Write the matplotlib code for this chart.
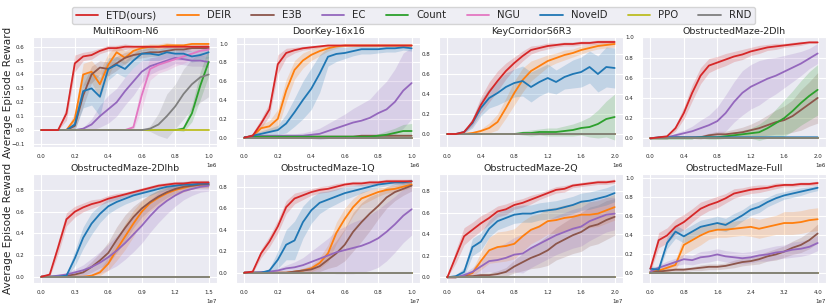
import matplotlib
matplotlib.use('Agg')
import matplotlib.pyplot as plt
import numpy as np
import seaborn as sns

sns.set_style('darkgrid')

methods = ['ETD(ours)', 'DEIR', 'E3B', 'EC', 'Count', 'NGU', 'NovelD', 'PPO', 'RND']
colors = ['#d62728', '#ff7f0e', '#8c564b', '#9467bd', '#2ca02c',
          '#e377c2', '#1f77b4', '#bcbd22', '#7f7f7f']

titles = ['MultiRoom-N6', 'DoorKey-16x16', 'KeyCorridorS6R3', 'ObstructedMaze-2Dlh',
          'ObstructedMaze-2Dlhb', 'ObstructedMaze-1Q', 'ObstructedMaze-2Q', 'ObstructedMaze-Full']
total_steps = [1e6, 1e6, 2e6, 2e6, 1.5e7, 1e7, 2e7, 4e7]
y_ticks = [[-0.1, 0.0, 0.1, 0.2, 0.3, 0.4, 0.5, 0.6],
           [0.0, 0.2, 0.4, 0.6, 0.8, 1.0],
           [0.0, 0.2, 0.4, 0.6, 0.8],
           [0.0, 0.2, 0.4, 0.6, 0.8, 1.0],
           [0.0, 0.2, 0.4, 0.6, 0.8],
           [0.0, 0.2, 0.4, 0.6, 0.8],
           [0.0, 0.2, 0.4, 0.6, 0.8],
           [0.0, 0.2, 0.4, 0.6, 0.8, 1.0]]
y_lims = [(-0.122, 0.67), (-0.10, 1.07), (-0.13, 0.97), (-0.086, 1.003),
          (-0.058, 0.948), (-0.096, 0.918), (-0.053, 0.957), (-0.10, 1.045)]

progress = [0.0, 0.05, 0.1, 0.15, 0.2, 0.25, 0.3, 0.35, 0.4, 0.45, 0.5,
            0.55, 0.6, 0.65, 0.7, 0.75, 0.8, 0.85, 0.9, 0.95, 1.0]
flat_zero = [0, 0, 0, 0, 0, 0, 0, 0, 0, 0, 0, 0, 0, 0, 0, 0, 0, 0, 0, 0, 0]

# ---- MultiRoom-N6
multiroom_mean = {
    'ETD(ours)': [0, 0, 0, 0.12, 0.48, 0.53, 0.54, 0.57, 0.59, 0.59, 0.60, 0.60, 0.60, 0.60, 0.60, 0.60, 0.60, 0.60, 0.60, 0.60, 0.60],
    'DEIR':      [0, 0, 0, 0, 0.08, 0.40, 0.42, 0.33, 0.47, 0.56, 0.52, 0.57, 0.59, 0.60, 0.60, 0.61, 0.61, 0.61, 0.62, 0.62, 0.62],
    'E3B':       [0, 0, 0, 0, 0.03, 0.25, 0.40, 0.45, 0.44, 0.48, 0.52, 0.54, 0.55, 0.56, 0.56, 0.57, 0.58, 0.58, 0.59, 0.59, 0.59],
    'EC':        [0, 0, 0, 0, 0, 0.01, 0.04, 0.10, 0.15, 0.20, 0.28, 0.35, 0.42, 0.46, 0.48, 0.50, 0.52, 0.51, 0.50, 0.50, 0.49],
    'Count':     [0, 0, 0, 0, 0, 0, 0, 0, 0, 0, 0, 0, 0, 0, 0, 0, 0, 0.01, 0.12, 0.32, 0.49],
    'NGU':       [0, 0, 0, 0, 0, 0, 0, 0, 0, 0, 0, 0.02, 0.25, 0.44, 0.47, 0.49, 0.51, 0.53, 0.55, 0.57, 0.58],
    'NovelD':    [0, 0, 0, 0, 0.04, 0.28, 0.30, 0.24, 0.44, 0.47, 0.44, 0.50, 0.55, 0.55, 0.54, 0.56, 0.55, 0.55, 0.53, 0.54, 0.56],
    'RND':       [0, 0, 0, 0, 0, 0, 0, 0, 0, 0, 0, 0, 0, 0.01, 0.04, 0.10, 0.17, 0.26, 0.33, 0.38, 0.40],
}
multiroom_sd = {
    'ETD(ours)': [0, 0, 0, 0.05, 0.06, 0.03, 0.03, 0.02, 0.02, 0.02, 0.02, 0.01, 0.01, 0.01, 0.01, 0.01, 0.01, 0.01, 0.01, 0.01, 0.01],
    'DEIR':      [0, 0, 0, 0, 0.05, 0.08, 0.08, 0.10, 0.08, 0.05, 0.05, 0.03, 0.02, 0.02, 0.02, 0.02, 0.01, 0.01, 0.01, 0.01, 0.01],
    'E3B':       [0, 0, 0, 0, 0.03, 0.08, 0.06, 0.05, 0.05, 0.05, 0.04, 0.03, 0.03, 0.03, 0.03, 0.02, 0.02, 0.02, 0.02, 0.02, 0.02],
    'EC':        [0, 0, 0, 0, 0, 0.01, 0.04, 0.08, 0.10, 0.10, 0.10, 0.10, 0.08, 0.06, 0.05, 0.05, 0.04, 0.04, 0.04, 0.04, 0.04],
    'Count':     [0, 0, 0, 0, 0, 0, 0, 0, 0, 0, 0, 0, 0, 0, 0, 0, 0, 0.02, 0.06, 0.10, 0.10],
    'NGU':       [0, 0, 0, 0, 0, 0, 0, 0, 0, 0, 0, 0.02, 0.10, 0.08, 0.06, 0.06, 0.05, 0.05, 0.04, 0.04, 0.04],
    'NovelD':    [0, 0, 0, 0, 0.04, 0.12, 0.12, 0.14, 0.08, 0.06, 0.06, 0.05, 0.05, 0.05, 0.04, 0.04, 0.04, 0.04, 0.04, 0.04, 0.04],
    'RND':       [0, 0, 0, 0, 0, 0, 0, 0, 0, 0, 0, 0, 0, 0.02, 0.08, 0.16, 0.16, 0.18, 0.18, 0.18, 0.16],
}

# ---- DoorKey-16x16
doorkey_mean = {
    'ETD(ours)': [0, 0.02, 0.15, 0.30, 0.78, 0.90, 0.93, 0.95, 0.96, 0.97, 0.98, 0.98, 0.98, 0.98, 0.98, 0.98, 0.98, 0.98, 0.98, 0.98, 0.98],
    'DEIR':      [0, 0.02, 0.10, 0.12, 0.20, 0.50, 0.72, 0.82, 0.88, 0.92, 0.95, 0.97, 0.98, 0.98, 0.98, 0.98, 0.98, 0.98, 0.98, 0.98, 0.98],
    'E3B':       [0, 0.01, 0.01, 0.01, 0.01, 0.01, 0.01, 0.01, 0.01, 0.01, 0.01, 0.01, 0.01, 0.01, 0.02, 0.02, 0.02, 0.02, 0.02, 0.02, 0.02],
    'EC':        [0, 0.01, 0.02, 0.02, 0.02, 0.02, 0.02, 0.02, 0.03, 0.04, 0.07, 0.10, 0.13, 0.16, 0.18, 0.21, 0.26, 0.30, 0.38, 0.50, 0.58],
    'Count':     [0, 0.01, 0.01, 0.01, 0.01, 0.01, 0.01, 0.01, 0.01, 0.01, 0.01, 0.01, 0.01, 0.01, 0.01, 0.01, 0.02, 0.03, 0.05, 0.07, 0.07],
    'NovelD':    [0, 0.02, 0.04, 0.06, 0.08, 0.15, 0.27, 0.40, 0.52, 0.68, 0.86, 0.89, 0.90, 0.92, 0.94, 0.94, 0.94, 0.95, 0.95, 0.96, 0.95],
}
doorkey_sd = {
    'ETD(ours)': [0, 0.03, 0.05, 0.07, 0.10, 0.05, 0.03, 0.02, 0.02, 0.01, 0.01, 0.01, 0.01, 0.01, 0.01, 0.01, 0.01, 0.01, 0.01, 0.01, 0.01],
    'DEIR':      [0, 0.02, 0.04, 0.06, 0.10, 0.12, 0.10, 0.08, 0.06, 0.05, 0.03, 0.02, 0.01, 0.01, 0.01, 0.01, 0.01, 0.01, 0.01, 0.01, 0.01],
    'E3B':       [0, 0.01, 0.01, 0.01, 0.01, 0.01, 0.01, 0.01, 0.01, 0.01, 0.01, 0.01, 0.01, 0.01, 0.01, 0.01, 0.01, 0.01, 0.01, 0.01, 0.01],
    'EC':        [0, 0.01, 0.01, 0.01, 0.01, 0.02, 0.02, 0.03, 0.04, 0.06, 0.08, 0.10, 0.12, 0.15, 0.18, 0.20, 0.25, 0.30, 0.35, 0.40, 0.38],
    'Count':     [0, 0, 0, 0, 0, 0, 0, 0, 0, 0, 0, 0, 0, 0, 0, 0, 0.02, 0.04, 0.05, 0.07, 0.08],
    'NovelD':    [0, 0.02, 0.03, 0.04, 0.05, 0.10, 0.15, 0.20, 0.22, 0.20, 0.10, 0.08, 0.06, 0.05, 0.05, 0.05, 0.04, 0.04, 0.04, 0.03, 0.03],
}

# ---- KeyCorridorS6R3
keycorridor_mean = {
    'ETD(ours)': [0, 0, 0.02, 0.12, 0.29, 0.42, 0.53, 0.63, 0.71, 0.78, 0.84, 0.86, 0.88, 0.89, 0.90, 0.90, 0.91, 0.91, 0.92, 0.92, 0.92],
    'DEIR':      [0, 0, 0, 0.01, 0.03, 0.06, 0.12, 0.26, 0.41, 0.54, 0.63, 0.68, 0.73, 0.76, 0.79, 0.81, 0.84, 0.86, 0.88, 0.89, 0.90],
    'Count':     [0, 0, 0, 0, 0, 0, 0, 0, 0, 0.01, 0.01, 0.02, 0.02, 0.02, 0.03, 0.04, 0.06, 0.07, 0.10, 0.15, 0.17],
    'NovelD':    [0, 0, 0.02, 0.11, 0.26, 0.36, 0.41, 0.47, 0.51, 0.53, 0.47, 0.52, 0.56, 0.52, 0.57, 0.60, 0.62, 0.67, 0.60, 0.67, 0.66],
}
keycorridor_sd = {
    'ETD(ours)': [0, 0, 0.01, 0.04, 0.08, 0.10, 0.10, 0.08, 0.06, 0.05, 0.04, 0.03, 0.03, 0.02, 0.02, 0.02, 0.02, 0.02, 0.02, 0.02, 0.02],
    'DEIR':      [0, 0, 0, 0.01, 0.02, 0.05, 0.08, 0.10, 0.12, 0.12, 0.10, 0.08, 0.06, 0.05, 0.05, 0.04, 0.04, 0.03, 0.03, 0.03, 0.03],
    'Count':     [0, 0, 0, 0, 0, 0, 0, 0, 0, 0.02, 0.03, 0.03, 0.04, 0.04, 0.05, 0.06, 0.07, 0.10, 0.14, 0.18, 0.23],
    'NovelD':    [0, 0, 0.01, 0.05, 0.08, 0.10, 0.12, 0.14, 0.14, 0.15, 0.15, 0.14, 0.14, 0.12, 0.12, 0.14, 0.15, 0.16, 0.18, 0.20, 0.20],
}

# ---- ObstructedMaze-2Dlh
maze_2dlh_mean = {
    'ETD(ours)': [0, 0.01, 0.02, 0.10, 0.25, 0.45, 0.62, 0.72, 0.75, 0.78, 0.81, 0.83, 0.86, 0.88, 0.90, 0.91, 0.92, 0.93, 0.94, 0.95, 0.95],
    'E3B':       [0, 0, 0, 0.01, 0.01, 0.01, 0.01, 0.03, 0.04, 0.04, 0.05, 0.06, 0.08, 0.10, 0.13, 0.16, 0.18, 0.22, 0.28, 0.34, 0.40],
    'EC':        [0, 0.005, 0.01, 0.03, 0.05, 0.07, 0.10, 0.13, 0.17, 0.25, 0.36, 0.45, 0.51, 0.55, 0.59, 0.62, 0.66, 0.70, 0.74, 0.79, 0.84],
    'Count':     [0, 0, 0, 0, 0, 0, 0.01, 0.01, 0.01, 0.02, 0.03, 0.04, 0.05, 0.06, 0.10, 0.15, 0.20, 0.27, 0.35, 0.42, 0.48],
    'NovelD':    [0, 0.01, 0.01, 0.01, 0.01, 0.01, 0.01, 0.01, 0.01, 0.01, 0.01, 0.01, 0.01, 0.01, 0.01, 0.01, 0.01, 0.01, 0.01, 0.01, 0.01],
}
maze_2dlh_sd = {
    'ETD(ours)': [0, 0.01, 0.01, 0.03, 0.06, 0.08, 0.08, 0.07, 0.06, 0.06, 0.05, 0.05, 0.04, 0.04, 0.03, 0.03, 0.02, 0.02, 0.02, 0.01, 0.01],
    'E3B':       [0, 0, 0, 0.01, 0.01, 0.01, 0.02, 0.02, 0.03, 0.03, 0.04, 0.05, 0.06, 0.08, 0.10, 0.12, 0.14, 0.16, 0.20, 0.22, 0.25],
    'EC':        [0, 0.01, 0.01, 0.02, 0.03, 0.05, 0.08, 0.10, 0.14, 0.18, 0.20, 0.22, 0.22, 0.22, 0.20, 0.18, 0.16, 0.14, 0.12, 0.10, 0.10],
    'Count':     [0, 0, 0, 0, 0, 0, 0.01, 0.02, 0.02, 0.02, 0.03, 0.04, 0.05, 0.08, 0.10, 0.14, 0.18, 0.20, 0.22, 0.24, 0.25],
    'NovelD':    [0, 0.01, 0.01, 0.01, 0.01, 0.01, 0.01, 0.01, 0.01, 0.01, 0.01, 0.01, 0.01, 0.01, 0.01, 0.01, 0.01, 0.01, 0.01, 0.01, 0.01],
}

# ---- ObstructedMaze-2Dlhb
maze_2dlhb_mean = {
    'ETD(ours)': [0, 0.02, 0.27, 0.53, 0.60, 0.64, 0.67, 0.69, 0.72, 0.74, 0.76, 0.78, 0.80, 0.82, 0.84, 0.85, 0.86, 0.86, 0.87, 0.87, 0.87],
    'DEIR':      [0, 0, 0, 0, 0, 0, 0.01, 0.04, 0.12, 0.25, 0.37, 0.49, 0.60, 0.68, 0.73, 0.77, 0.80, 0.82, 0.84, 0.85, 0.85],
    'E3B':       [0, 0, 0, 0.01, 0.02, 0.04, 0.09, 0.15, 0.22, 0.34, 0.45, 0.55, 0.63, 0.69, 0.74, 0.78, 0.81, 0.83, 0.84, 0.85, 0.85],
    'EC':        [0, 0, 0.01, 0.02, 0.04, 0.06, 0.09, 0.13, 0.18, 0.24, 0.31, 0.39, 0.47, 0.56, 0.64, 0.70, 0.75, 0.79, 0.81, 0.83, 0.84],
    'NovelD':    [0, 0, 0, 0.01, 0.17, 0.36, 0.49, 0.58, 0.65, 0.69, 0.72, 0.75, 0.77, 0.79, 0.81, 0.83, 0.84, 0.85, 0.85, 0.86, 0.86],
}
maze_2dlhb_sd = {
    'ETD(ours)': [0, 0.02, 0.06, 0.06, 0.05, 0.04, 0.04, 0.03, 0.03, 0.03, 0.02, 0.02, 0.02, 0.02, 0.02, 0.02, 0.02, 0.02, 0.02, 0.02, 0.02],
    'DEIR':      [0, 0, 0, 0, 0, 0, 0.01, 0.03, 0.06, 0.10, 0.12, 0.12, 0.10, 0.08, 0.07, 0.06, 0.05, 0.04, 0.03, 0.03, 0.03],
    'E3B':       [0, 0, 0, 0.01, 0.02, 0.03, 0.05, 0.07, 0.10, 0.12, 0.12, 0.10, 0.08, 0.07, 0.06, 0.05, 0.04, 0.04, 0.03, 0.03, 0.03],
    'EC':        [0, 0, 0.01, 0.02, 0.03, 0.05, 0.08, 0.10, 0.12, 0.14, 0.15, 0.16, 0.16, 0.15, 0.14, 0.12, 0.10, 0.08, 0.06, 0.05, 0.05],
    'NovelD':    [0, 0, 0, 0.01, 0.07, 0.10, 0.10, 0.08, 0.07, 0.06, 0.05, 0.05, 0.04, 0.04, 0.03, 0.03, 0.03, 0.03, 0.02, 0.02, 0.02],
}

# ---- ObstructedMaze-1Q
maze_1q_mean = {
    'ETD(ours)': [0, 0.01, 0.18, 0.29, 0.43, 0.61, 0.69, 0.72, 0.75, 0.77, 0.78, 0.80, 0.82, 0.83, 0.83, 0.84, 0.84, 0.85, 0.85, 0.85, 0.85],
    'DEIR':      [0, 0, 0, 0, 0, 0, 0.01, 0.02, 0.04, 0.09, 0.18, 0.37, 0.50, 0.61, 0.69, 0.72, 0.75, 0.77, 0.78, 0.80, 0.82],
    'E3B':       [0, 0, 0, 0, 0, 0, 0.01, 0.02, 0.03, 0.06, 0.12, 0.18, 0.26, 0.38, 0.47, 0.55, 0.62, 0.70, 0.75, 0.78, 0.81],
    'EC':        [0, 0, 0.005, 0.01, 0.02, 0.04, 0.05, 0.07, 0.10, 0.13, 0.16, 0.19, 0.21, 0.23, 0.25, 0.28, 0.32, 0.38, 0.45, 0.53, 0.59],
    'NovelD':    [0, 0, 0, 0.02, 0.12, 0.26, 0.30, 0.47, 0.58, 0.65, 0.68, 0.71, 0.74, 0.76, 0.78, 0.80, 0.82, 0.83, 0.84, 0.84, 0.85],
}
maze_1q_sd = {
    'ETD(ours)': [0, 0.01, 0.04, 0.05, 0.06, 0.06, 0.05, 0.04, 0.03, 0.03, 0.03, 0.03, 0.02, 0.02, 0.02, 0.02, 0.02, 0.02, 0.02, 0.02, 0.02],
    'DEIR':      [0, 0, 0, 0, 0, 0, 0.01, 0.02, 0.03, 0.05, 0.08, 0.10, 0.10, 0.08, 0.06, 0.05, 0.04, 0.03, 0.03, 0.03, 0.03],
    'E3B':       [0, 0, 0, 0, 0, 0, 0.01, 0.02, 0.03, 0.05, 0.08, 0.12, 0.15, 0.18, 0.18, 0.16, 0.12, 0.10, 0.08, 0.06, 0.05],
    'EC':        [0, 0, 0.01, 0.01, 0.02, 0.03, 0.05, 0.07, 0.10, 0.13, 0.16, 0.20, 0.22, 0.24, 0.25, 0.26, 0.27, 0.27, 0.26, 0.25, 0.24],
    'NovelD':    [0, 0, 0, 0.02, 0.08, 0.14, 0.18, 0.15, 0.12, 0.10, 0.08, 0.07, 0.06, 0.05, 0.04, 0.03, 0.03, 0.02, 0.02, 0.02, 0.02],
}

# ---- ObstructedMaze-2Q
maze_2q_mean = {
    'ETD(ours)': [0, 0.19, 0.38, 0.44, 0.50, 0.55, 0.61, 0.63, 0.67, 0.69, 0.72, 0.75, 0.78, 0.81, 0.82, 0.85, 0.86, 0.87, 0.88, 0.88, 0.89],
    'DEIR':      [0, 0, 0.01, 0.04, 0.15, 0.25, 0.28, 0.29, 0.31, 0.38, 0.44, 0.47, 0.52, 0.53, 0.55, 0.56, 0.58, 0.58, 0.59, 0.62, 0.65],
    'E3B':       [0, 0, 0.01, 0.01, 0.02, 0.02, 0.03, 0.05, 0.10, 0.14, 0.18, 0.21, 0.25, 0.31, 0.35, 0.39, 0.42, 0.47, 0.49, 0.53, 0.56],
    'EC':        [0, 0, 0.02, 0.05, 0.10, 0.15, 0.16, 0.18, 0.21, 0.22, 0.27, 0.31, 0.35, 0.39, 0.42, 0.45, 0.47, 0.52, 0.55, 0.58, 0.59],
    'NovelD':    [0, 0.01, 0.05, 0.28, 0.33, 0.45, 0.52, 0.55, 0.58, 0.59, 0.59, 0.61, 0.62, 0.63, 0.65, 0.67, 0.70, 0.71, 0.73, 0.75, 0.78],
}
maze_2q_sd = {
    'ETD(ours)': [0, 0.06, 0.08, 0.07, 0.07, 0.06, 0.05, 0.05, 0.04, 0.04, 0.04, 0.03, 0.03, 0.03, 0.03, 0.02, 0.02, 0.02, 0.02, 0.02, 0.02],
    'DEIR':      [0, 0, 0.01, 0.03, 0.08, 0.12, 0.14, 0.14, 0.14, 0.14, 0.13, 0.12, 0.12, 0.12, 0.12, 0.12, 0.12, 0.12, 0.12, 0.12, 0.12],
    'E3B':       [0, 0, 0.01, 0.01, 0.02, 0.02, 0.03, 0.04, 0.06, 0.08, 0.10, 0.12, 0.14, 0.15, 0.16, 0.17, 0.18, 0.18, 0.18, 0.18, 0.17],
    'EC':        [0, 0, 0.02, 0.04, 0.06, 0.10, 0.12, 0.14, 0.16, 0.18, 0.18, 0.18, 0.18, 0.18, 0.18, 0.18, 0.18, 0.18, 0.17, 0.16, 0.15],
    'NovelD':    [0, 0.01, 0.04, 0.08, 0.08, 0.08, 0.08, 0.08, 0.08, 0.08, 0.08, 0.08, 0.08, 0.08, 0.08, 0.08, 0.08, 0.08, 0.08, 0.08, 0.08],
}

# ---- ObstructedMaze-Full
maze_full_mean = {
    'ETD(ours)': [0.05, 0.35, 0.40, 0.49, 0.54, 0.61, 0.68, 0.72, 0.75, 0.79, 0.84, 0.86, 0.88, 0.89, 0.90, 0.92, 0.93, 0.93, 0.94, 0.94, 0.95],
    'DEIR':      [0.02, 0.03, 0.06, 0.09, 0.30, 0.35, 0.40, 0.44, 0.46, 0.46, 0.47, 0.48, 0.49, 0.47, 0.49, 0.51, 0.53, 0.53, 0.54, 0.56, 0.57],
    'E3B':       [0.01, 0.02, 0.03, 0.04, 0.04, 0.05, 0.06, 0.07, 0.07, 0.08, 0.10, 0.12, 0.13, 0.15, 0.18, 0.20, 0.23, 0.27, 0.30, 0.35, 0.42],
    'EC':        [0.02, 0.06, 0.09, 0.12, 0.15, 0.14, 0.17, 0.18, 0.20, 0.18, 0.17, 0.16, 0.17, 0.19, 0.20, 0.22, 0.23, 0.25, 0.26, 0.28, 0.32],
    'NovelD':    [0.05, 0.04, 0.32, 0.44, 0.39, 0.44, 0.49, 0.51, 0.53, 0.51, 0.56, 0.61, 0.67, 0.70, 0.75, 0.79, 0.82, 0.84, 0.86, 0.88, 0.90],
}
maze_full_sd = {
    'ETD(ours)': [0.03, 0.08, 0.08, 0.08, 0.08, 0.07, 0.07, 0.06, 0.06, 0.05, 0.05, 0.04, 0.04, 0.04, 0.03, 0.03, 0.02, 0.02, 0.02, 0.02, 0.02],
    'DEIR':      [0.02, 0.02, 0.04, 0.05, 0.10, 0.10, 0.10, 0.08, 0.08, 0.08, 0.08, 0.08, 0.10, 0.10, 0.10, 0.10, 0.12, 0.12, 0.12, 0.12, 0.12],
    'E3B':       [0.01, 0.01, 0.02, 0.02, 0.02, 0.02, 0.03, 0.03, 0.03, 0.03, 0.04, 0.04, 0.04, 0.05, 0.05, 0.06, 0.06, 0.07, 0.08, 0.09, 0.10],
    'EC':        [0.02, 0.03, 0.04, 0.04, 0.05, 0.05, 0.06, 0.06, 0.06, 0.06, 0.06, 0.06, 0.06, 0.06, 0.07, 0.07, 0.07, 0.08, 0.08, 0.08, 0.08],
    'NovelD':    [0.03, 0.03, 0.06, 0.07, 0.07, 0.07, 0.07, 0.07, 0.07, 0.07, 0.07, 0.06, 0.06, 0.06, 0.05, 0.05, 0.04, 0.04, 0.04, 0.03, 0.03],
}

panel_means = [multiroom_mean, doorkey_mean, keycorridor_mean, maze_2dlh_mean,
               maze_2dlhb_mean, maze_1q_mean, maze_2q_mean, maze_full_mean]
panel_sds = [multiroom_sd, doorkey_sd, keycorridor_sd, maze_2dlh_sd,
             maze_2dlhb_sd, maze_1q_sd, maze_2q_sd, maze_full_sd]

W, H = 831, 303
fig = plt.figure(figsize=(W / 100, H / 100), dpi=100)

col_left = [33, 236, 439, 642]
row_span = [(37, 147), (174, 283)]
ax_w = 184

axes = []
for i in range(8):
    r, c = divmod(i, 4)
    top, bot = row_span[r]
    ax = fig.add_axes([col_left[c] / W, 1 - bot / H, ax_w / W, (bot - top) / H])
    axes.append(ax)

handles = []
for i, ax in enumerate(axes):
    x = np.array(progress) * total_steps[i]
    for j, m in enumerate(methods):
        mean = np.array(panel_means[i].get(m, flat_zero), dtype=float)
        sd = np.array(panel_sds[i].get(m, flat_zero), dtype=float)
        z = 10 if m == 'ETD(ours)' else 2 + j * 0.1
        ln, = ax.plot(x, mean, color=colors[j], lw=1.3, label=m, zorder=z)
        ax.fill_between(x, mean - sd, mean + sd, color=colors[j], alpha=0.2,
                        lw=0, zorder=1)
        if i == 0:
            handles.append(ln)
    ax.set_title(titles[i], fontsize=6.8, pad=2)
    ax.set_xticks(np.linspace(0, total_steps[i], 6))
    ax.set_yticks(y_ticks[i])
    ax.set_ylim(*y_lims[i])
    ax.tick_params(axis='y', labelsize=4, pad=2.5)
    ax.tick_params(axis='x', labelsize=4, pad=1.5)
    ax.xaxis.get_offset_text().set_fontsize(4)
    ax.grid(color='white', lw=0.8)
    if i % 4 == 0:
        ax.set_ylabel('Average Episode Reward', fontsize=7.6)
        ax.yaxis.set_label_coords(-0.11, 0.5)

fig.legend(handles=handles, loc='upper center', bbox_to_anchor=(0.4975, 0.995),
           ncol=9, fontsize=7.3, frameon=True, facecolor='#EAEAF2',
           edgecolor='#cccccc', handlelength=2.2, columnspacing=2.0,
           borderpad=0.35, handletextpad=0.8)

fig.savefig('out.png', dpi=100)
